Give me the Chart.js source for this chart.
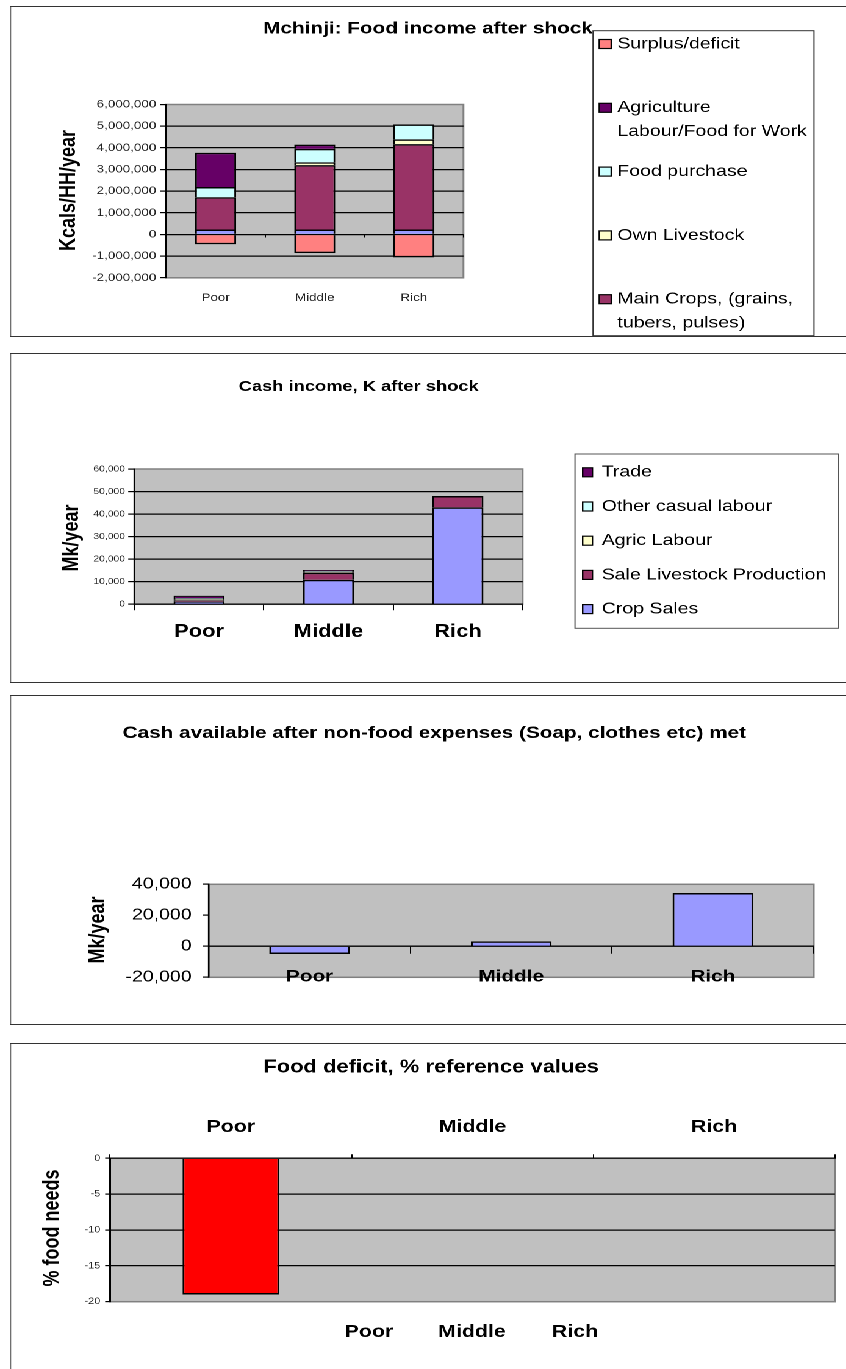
<!DOCTYPE html>
<html>
<head>
<meta charset="utf-8">
<title>Mchinji household economy after shock</title>
<script src="https://cdn.jsdelivr.net/npm/chart.js@4/dist/chart.umd.min.js"></script>
<style>
  html, body { margin: 0; padding: 0; background: #fff; width: 846px; height: 1369px; overflow: hidden; }
  /* the whole sheet is laid out in narrow units and widened horizontally */
  #page { position: absolute; left: 0; top: 0; width: 694px; height: 1369px;
          transform: scaleX(1.22); transform-origin: 0 0; }
  canvas { position: absolute; left: 0; }
  .panel { position: absolute; left: 8.2px; width: 720px; box-sizing: border-box;
           border: 1.6px solid #333; pointer-events: none; }
</style>
</head>
<body>
<div id="page">
  <canvas id="foodChart" width="694" height="345" style="top:0px"></canvas>
  <canvas id="cashChart" width="694" height="345" style="top:345px"></canvas>
  <canvas id="balanceChart" width="694" height="345" style="top:690px"></canvas>
  <canvas id="deficitChart" width="694" height="334" style="top:1035px"></canvas>
  <div class="panel" style="top:5.5px;height:331.5px"></div>
  <div class="panel" style="top:352.5px;height:330px"></div>
  <div class="panel" style="top:695px;height:330px"></div>
  <div class="panel" style="top:1042.5px;height:340px"></div>
</div>
<script>
// ---- wealth groups ----
const groups = ['Poor', 'Middle', 'Rich'];

// ---- food income after shock (kcal / household / year) ----
const foodOther        = [230000, 230000, 230000];
const foodMainCrops    = [1490000, 2970000, 3940000];
const foodOwnLivestock = [0, 130000, 220000];
const foodPurchase     = [470000, 620000, 690000];
const foodAgricLabour  = [1580000, 200000, 0];
const foodSurplus      = [-450000, -860000, -1060000];

// ---- cash income after shock (MK / year) ----
const cashCropSales      = [1200, 10900, 43000];
const cashLivestockSales = [600, 3100, 5000];
const cashAgricLabour    = [500, 300, 0];
const cashCasualLabour   = [500, 400, 0];
const cashTrade          = [1000, 500, 0];

// ---- cash left after non-food expenses (MK / year) ----
const cashAvailable = [-5000, 3200, 34400];

// ---- food deficit, % of reference needs ----
const foodDeficit = [-19, 0, 0];

const FONT = "'Liberation Sans', Arial, Helvetica, sans-serif";
Chart.defaults.font.family = FONT;
Chart.defaults.color = '#000';

const fmt = v => Number(v).toLocaleString('en-US');

function wrapText(ctx, text, maxW) {
  const words = text.split(' ');
  const lines = [];
  let cur = '';
  for (const w of words) {
    const test = cur ? cur + ' ' + w : w;
    if (cur && ctx.measureText(test).width > maxW) { lines.push(cur); cur = w; }
    else cur = test;
  }
  if (cur) lines.push(cur);
  return lines;
}

// grey plot area, titles and boxed legend for each panel
const panelDeco = {
  id: 'panelDeco',
  beforeDraw(chart) {
    const { ctx, chartArea: a } = chart;
    ctx.save();
    ctx.fillStyle = '#c0c0c0';
    ctx.fillRect(a.left, a.top, a.right - a.left, a.bottom - a.top);
    ctx.strokeStyle = '#808080';
    ctx.lineWidth = 1.5;
    ctx.strokeRect(a.left, a.top, a.right - a.left, a.bottom - a.top);
    ctx.restore();
  },
  afterDraw(chart, _args, o) {
    const ctx = chart.ctx;
    ctx.save();
    ctx.fillStyle = '#000';
    ctx.textAlign = 'center';
    ctx.textBaseline = 'middle';
    if (o.title) {
      ctx.font = `bold ${o.title.size}px ${FONT}`;
      ctx.fillText(o.title.text, o.title.x, o.title.y);
    }
    if (o.yTitle) {
      ctx.save();
      ctx.translate(o.yTitle.x, o.yTitle.y);
      ctx.rotate(-Math.PI / 2);
      ctx.font = `bold ${o.yTitle.size}px ${FONT}`;
      ctx.fillText(o.yTitle.text, 0, 0);
      ctx.restore();
    }
    const lg = o.legend;
    if (lg) {
      const items = chart.data.datasets
        .filter(d => !d.hideInLegend)
        .map(d => ({ label: d.label, color: d.backgroundColor }))
        .reverse();
      ctx.fillStyle = '#fff';
      ctx.fillRect(lg.x, lg.y, lg.w, lg.h);
      ctx.strokeStyle = lg.border;
      ctx.lineWidth = 1;
      ctx.strokeRect(lg.x, lg.y, lg.w, lg.h);
      ctx.font = `${lg.size}px ${FONT}`;
      ctx.textAlign = 'left';
      items.forEach((it, i) => {
        const cy = lg.firstY + i * lg.step;
        ctx.fillStyle = it.color;
        ctx.fillRect(lg.swX, cy - lg.swH / 2, lg.swW, lg.swH);
        ctx.strokeStyle = '#000';
        ctx.lineWidth = 1.2;
        ctx.strokeRect(lg.swX, cy - lg.swH / 2, lg.swW, lg.swH);
        ctx.fillStyle = '#000';
        wrapText(ctx, it.label, lg.maxW).forEach((ln, k) => {
          ctx.fillText(ln, lg.textX, cy + k * lg.lineH);
        });
      });
    }
    ctx.restore();
  }
};

const barStyle = { borderColor: '#000', borderWidth: 1.5 };
const interiorGrid = (lo, hi) => c => (c.tick && c.tick.value > lo && c.tick.value < hi) ? '#000' : 'rgba(0,0,0,0)';
const common = {
  responsive: false,
  maintainAspectRatio: false,
  devicePixelRatio: 2,
  animation: false,
  events: []
};

// ---------- 1. food income ----------
new Chart(document.getElementById('foodChart'), {
  type: 'bar',
  data: {
    labels: groups,
    datasets: [
      { label: 'Other sources', data: foodOther, backgroundColor: '#9999ff', hideInLegend: true },
      { label: 'Main Crops, (grains, tubers, pulses)', data: foodMainCrops, backgroundColor: '#993366' },
      { label: 'Own Livestock', data: foodOwnLivestock, backgroundColor: '#ffffcc' },
      { label: 'Food purchase', data: foodPurchase, backgroundColor: '#ccffff' },
      { label: 'Agriculture Labour/Food for Work', data: foodAgricLabour, backgroundColor: '#660066' },
      { label: 'Surplus/deficit', data: foodSurplus, backgroundColor: '#ff8080' }
    ].map(d => ({ ...d, ...barStyle, xAxisID: 'x', yAxisID: 'y', categoryPercentage: 1, barPercentage: 0.414 }))
  },
  options: {
    ...common,
    layout: { padding: { left: 76.1, right: 314.1, top: 104.5, bottom: 37.2 } },
    scales: {
      x: {
        type: 'category', stacked: true, position: { y: 0 }, offset: true,
        grid: { offset: true, drawOnChartArea: false, tickLength: 3, tickColor: '#000' },
        border: { display: false },
        ticks: { display: false }
      },
      xl: {
        type: 'category', position: 'bottom', offset: true,
        grid: { display: false, drawTicks: false }, border: { display: false },
        ticks: { font: { size: 11 }, color: '#222', padding: 13.4 },
        afterFit: s => { s.height = 30; }
      },
      y: {
        stacked: true, min: -2000000, max: 6000000,
        ticks: { stepSize: 1000000, font: { size: 11 }, color: '#222', padding: 3, callback: fmt },
        grid: { color: interiorGrid(-2000000, 6000000), tickColor: '#000', tickLength: 5, lineWidth: 1.2 },
        border: { display: true, color: '#000', width: 1.2 },
        afterFit: s => { s.width = 60; }
      }
    },
    plugins: {
      legend: { display: false }, tooltip: { enabled: false },
      panelDeco: {
        title: { text: 'Mchinji: Food income after shock', x: 350.8, y: 29, size: 17 },
        yTitle: { text: 'Kcals/HH/year', x: 56.6, y: 190.5, size: 18 },
        legend: { x: 486.1, y: 30.7, w: 181.1, h: 305, border: '#333', size: 16,
                  swX: 491.2, swW: 9.8, swH: 9, textX: 506, firstY: 44, step: 63.8, lineH: 24, maxW: 165 }
      }
    }
  },
  plugins: [panelDeco]
});

// ---------- 2. cash income ----------
new Chart(document.getElementById('cashChart'), {
  type: 'bar',
  data: {
    labels: groups,
    datasets: [
      { label: 'Crop Sales', data: cashCropSales, backgroundColor: '#9999ff' },
      { label: 'Sale Livestock Production', data: cashLivestockSales, backgroundColor: '#993366' },
      { label: 'Agric Labour', data: cashAgricLabour, backgroundColor: '#ffffcc' },
      { label: 'Other casual labour', data: cashCasualLabour, backgroundColor: '#ccffff' },
      { label: 'Trade', data: cashTrade, backgroundColor: '#660066' }
    ].map(d => ({ ...d, ...barStyle, xAxisID: 'x', yAxisID: 'y', categoryPercentage: 1, barPercentage: 0.394 }))
  },
  options: {
    ...common,
    layout: { padding: { left: 60.1, right: 265.6, top: 124, bottom: 40.7 } },
    scales: {
      x: {
        type: 'category', stacked: true, position: 'bottom', offset: true,
        grid: { offset: true, drawOnChartArea: false, tickLength: 6, tickColor: '#000' },
        border: { display: true, color: '#000', width: 1.2 },
        ticks: { font: { size: 18, weight: 'bold' }, color: '#000', padding: 10.9 },
        afterFit: s => { s.height = 45; }
      },
      y: {
        stacked: true, min: 0, max: 60000,
        ticks: { stepSize: 10000, font: { size: 8.5 }, color: '#222', padding: 2.6, callback: fmt },
        grid: { color: interiorGrid(0, 60000), tickColor: '#000', tickLength: 5, lineWidth: 1.2 },
        border: { display: true, color: '#000', width: 1.2 },
        afterFit: s => { s.width = 50; }
      }
    },
    plugins: {
      legend: { display: false }, tooltip: { enabled: false },
      panelDeco: {
        title: { text: 'Cash income, K after shock', x: 294, y: 42, size: 15 },
        yTitle: { text: 'Mk/year', x: 58.8, y: 193, size: 18 },
        legend: { x: 471.3, y: 109, w: 215.8, h: 174.3, border: '#555', size: 16,
                  swX: 477.6, swW: 8, swH: 9, textX: 493.2, firstY: 127.3, step: 34.2, lineH: 20, maxW: 400 }
      }
    }
  },
  plugins: [panelDeco]
});

// ---------- 3. cash available after non-food expenses ----------
new Chart(document.getElementById('balanceChart'), {
  type: 'bar',
  data: {
    labels: groups,
    datasets: [
      { label: 'Cash available', data: cashAvailable, backgroundColor: '#9999ff', ...barStyle,
        xAxisID: 'x', yAxisID: 'y', categoryPercentage: 1, barPercentage: 0.40 }
    ]
  },
  options: {
    ...common,
    layout: { padding: { left: 91.1, right: 27, top: 194.3, bottom: 57.7 } },
    scales: {
      x: {
        type: 'category', position: { y: 0 }, offset: true,
        grid: { offset: true, drawOnChartArea: false, tickLength: 7, tickColor: '#000' },
        border: { display: true, color: '#000', width: 1.2 },
        ticks: { display: false }
      },
      // group names sit on the lower edge of the plot
      xl: {
        type: 'category', position: { y: -20000 }, offset: true,
        grid: { display: false, drawTicks: false }, border: { display: false },
        ticks: { font: { size: 17, weight: 'bold' }, color: '#000', padding: -10.8 }
      },
      y: {
        min: -20000, max: 40000,
        ticks: { stepSize: 20000, font: { size: 16 }, color: '#000', padding: 9, callback: fmt },
        grid: { color: c => (c.tick && c.tick.value === 0) ? '#000' : 'rgba(0,0,0,0)', tickColor: '#000', tickLength: 5, lineWidth: 1.2 },
        border: { display: true, color: '#000', width: 1.2 },
        afterFit: s => { s.width = 80; }
      }
    },
    plugins: {
      legend: { display: false }, tooltip: { enabled: false },
      panelDeco: {
        title: { text: 'Cash available after non-food expenses (Soap, clothes etc) met', x: 356, y: 43.3, size: 17 },
        yTitle: { text: 'Mk/year', x: 80.7, y: 240, size: 18 }
      }
    }
  },
  plugins: [panelDeco]
});

// ---------- 4. food deficit ----------
new Chart(document.getElementById('deficitChart'), {
  type: 'bar',
  data: {
    labels: groups,
    datasets: [
      { label: 'Food deficit', data: foodDeficit, backgroundColor: '#ff0000', ...barStyle,
        xAxisID: 'x', yAxisID: 'y', categoryPercentage: 1, barPercentage: 0.40 }
    ]
  },
  options: {
    ...common,
    layout: { padding: { left: 50.2, right: 9.6, top: 83.3, bottom: 27.3 } },
    scales: {
      x: {
        type: 'category', position: 'top', offset: true,
        grid: { offset: true, drawOnChartArea: false, tickLength: 4, tickColor: '#000' },
        border: { display: true, color: '#000', width: 1.2 },
        ticks: { font: { size: 17.5, weight: 'bold' }, color: '#000', padding: 16.4 },
        afterFit: s => { s.height = 40; }
      },
      x2: {
        type: 'linear', position: 'bottom', min: -1.34, max: 3.35,
        grid: { display: false, drawTicks: false }, border: { display: false },
        afterBuildTicks: s => { s.ticks = groups.map((_, i) => ({ value: i })); },
        ticks: { font: { size: 17.5, weight: 'bold' }, color: '#000', padding: 19.8,
                 callback: v => groups[v] },
        afterFit: s => { s.height = 40; }
      },
      y: {
        min: -20, max: 0,
        ticks: { stepSize: 5, font: { size: 9 }, color: '#222', padding: 4 },
        grid: { color: interiorGrid(-20, 0), tickColor: '#000', tickLength: 4, lineWidth: 1.2 },
        border: { display: true, color: '#000', width: 1.5 },
        afterFit: s => { s.width = 40; }
      }
    },
    plugins: {
      legend: { display: false }, tooltip: { enabled: false },
      panelDeco: {
        title: { text: 'Food deficit, % reference values', x: 353.3, y: 32.3, size: 18 },
        yTitle: { text: '% food needs', x: 43.1, y: 193, size: 18 }
      }
    }
  },
  plugins: [panelDeco]
});
</script>
</body>
</html>
